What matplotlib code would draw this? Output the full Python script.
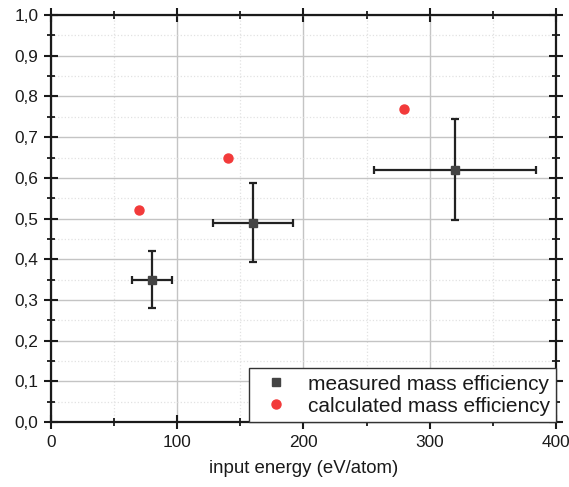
import matplotlib
matplotlib.use("Agg")
import matplotlib.pyplot as plt
from matplotlib.lines import Line2D
from matplotlib.ticker import MultipleLocator, FuncFormatter

plt.rcParams['font.family'] = ['Liberation Sans', 'DejaVu Sans']

# measured mass efficiency with error bars
meas_energy = [80, 160, 320]
meas_eff = [0.35, 0.49, 0.62]
meas_xerr = [16, 32, 64]
meas_yerr = [0.07, 0.097, 0.124]

# calculated mass efficiency
calc_energy = [70, 140, 280]
calc_eff = [0.52, 0.65, 0.77]

labels = ['measured mass efficiency', 'calculated mass efficiency']


def main():
    fig = plt.figure(figsize=(5.69, 4.87), dpi=100)
    ax = fig.add_axes([0.0896, 0.1335, 0.8875, 0.8355])

    ax.errorbar(meas_energy, meas_eff, xerr=meas_xerr, yerr=meas_yerr,
                fmt='s', color='#444444', ecolor='#222222', elinewidth=1.6,
                capsize=3.2, capthick=1.6, markersize=5.5, zorder=3)
    ax.plot(calc_energy, calc_eff, 'o', color='#f23a3a', markersize=6.5, zorder=3)

    ax.set_xlim(0, 400)
    ax.set_ylim(0, 1.0)
    ax.xaxis.set_major_locator(MultipleLocator(100))
    ax.xaxis.set_minor_locator(MultipleLocator(50))
    ax.yaxis.set_major_locator(MultipleLocator(0.1))
    ax.yaxis.set_minor_locator(MultipleLocator(0.05))
    ax.yaxis.set_major_formatter(FuncFormatter(lambda v, p: f"{v:.1f}".replace('.', ',')))

    ax.grid(which='major', color='#c4c4c4', linewidth=1.0, linestyle='-')
    ax.grid(which='minor', color='#e2e2e2', linewidth=0.9, linestyle=':')
    ax.set_axisbelow(True)

    for s in ax.spines.values():
        s.set_linewidth(1.6)
        s.set_color('#1a1a1a')
    ax.tick_params(which='major', direction='inout', length=10.5, width=1.5,
                   top=True, right=True, labelsize=12.4, colors='#1a1a1a', pad=4)
    ax.tick_params(which='minor', direction='inout', length=5.5, width=1.3,
                   top=True, right=True, colors='#1a1a1a')

    ax.set_xlabel('input energy (eV/atom)', fontsize=13.4, color='#1a1a1a', labelpad=7)

    # legend shows only the markers
    handles = [Line2D([], [], marker='s', linestyle='none', color='#444444', markersize=5.5),
               Line2D([], [], marker='o', linestyle='none', color='#f23a3a', markersize=6.5)]
    leg = ax.legend(handles, labels, loc='lower right', borderaxespad=0, fancybox=False,
                    framealpha=1, edgecolor='#333333', fontsize=15,
                    handletextpad=0.5, borderpad=0.3, labelspacing=0.15,
                    handlelength=2.0)
    leg.get_frame().set_linewidth(1.0)
    for t in leg.get_texts():
        t.set_color('#1a1a1a')

    fig.savefig('out.png', dpi=100)


if __name__ == "__main__":
    main()
